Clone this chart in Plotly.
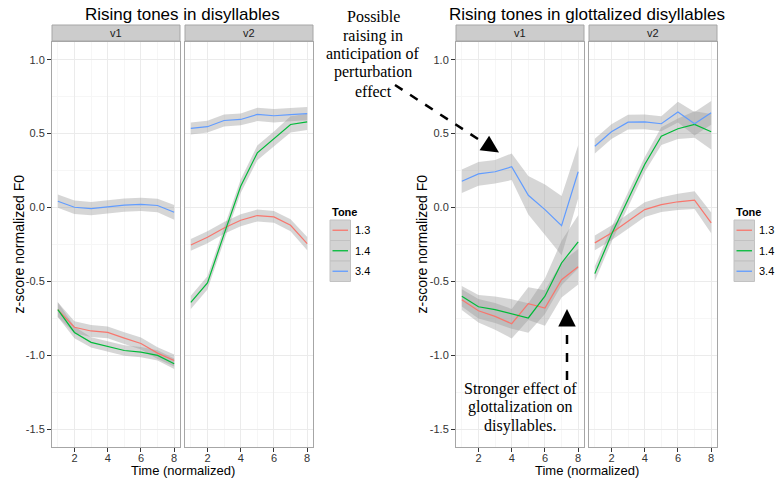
import plotly.graph_objects as go

# ---------------- data ----------------
time = [1, 2, 3, 4, 5, 6, 7, 8]
tones = ["1.3", "1.4", "3.4"]

# Rising tones in disyllables, v1
dis_v1_t13 = [-0.69, -0.81, -0.835, -0.845, -0.883, -0.92, -0.985, -1.035]
dis_v1_t13_se = [0.05, 0.04, 0.04, 0.04, 0.04, 0.04, 0.04, 0.04]
dis_v1_t14 = [-0.69, -0.845, -0.912, -0.94, -0.967, -0.978, -1.0, -1.057]
dis_v1_t14_se = [0.05, 0.04, 0.035, 0.035, 0.035, 0.035, 0.035, 0.035]
dis_v1_t34 = [0.043, 0.002, -0.007, 0.007, 0.016, 0.022, 0.014, -0.032]
dis_v1_t34_se = [0.045, 0.045, 0.045, 0.045, 0.045, 0.045, 0.045, 0.05]

# Rising tones in disyllables, v2
dis_v2_t13 = [-0.253, -0.201, -0.138, -0.086, -0.054, -0.063, -0.12, -0.244]
dis_v2_t13_se = [0.04, 0.04, 0.04, 0.04, 0.04, 0.04, 0.04, 0.045]
dis_v2_t14 = [-0.641, -0.51, -0.18, 0.144, 0.37, 0.465, 0.562, 0.58]
dis_v2_t14_se = [0.045, 0.045, 0.045, 0.045, 0.05, 0.05, 0.055, 0.055]
dis_v2_t34 = [0.535, 0.547, 0.589, 0.596, 0.63, 0.621, 0.628, 0.635]
dis_v2_t34_se = [0.04, 0.04, 0.04, 0.04, 0.045, 0.045, 0.045, 0.045]

# Rising tones in glottalized disyllables, v1
glo_v1_t13 = [-0.623, -0.698, -0.736, -0.786, -0.65, -0.68, -0.488, -0.40]
glo_v1_t13_se = [0.07, 0.08, 0.09, 0.1, 0.11, 0.12, 0.12, 0.12]
glo_v1_t14 = [-0.60, -0.671, -0.691, -0.72, -0.747, -0.60, -0.375, -0.232]
glo_v1_t14_se = [0.07, 0.08, 0.09, 0.1, 0.1, 0.12, 0.15, 0.18]
glo_v1_t34 = [0.178, 0.228, 0.242, 0.276, 0.083, -0.014, -0.122, 0.242]
glo_v1_t34_se = [0.08, 0.08, 0.08, 0.09, 0.13, 0.17, 0.2, 0.18]

# Rising tones in glottalized disyllables, v2
glo_v2_t13 = [-0.239, -0.172, -0.093, -0.014, 0.02, 0.039, 0.05, -0.104]
glo_v2_t13_se = [0.05, 0.05, 0.05, 0.05, 0.05, 0.055, 0.06, 0.07]
glo_v2_t14 = [-0.447, -0.183, 0.054, 0.291, 0.483, 0.533, 0.562, 0.513]
glo_v2_t14_se = [0.05, 0.05, 0.05, 0.05, 0.06, 0.07, 0.09, 0.12]
glo_v2_t34 = [0.415, 0.513, 0.578, 0.58, 0.567, 0.646, 0.567, 0.641]
glo_v2_t34_se = [0.05, 0.05, 0.05, 0.05, 0.05, 0.07, 0.08, 0.08]

x_ticks = [2, 4, 6, 8]
y_ticks = [-1.5, -1.0, -0.5, 0.0, 0.5, 1.0]
y_tick_labels = ["-1.5", "-1.0", "-0.5", "0.0", "0.5", "1.0"]

chart_titles = ["Rising tones in disyllables", "Rising tones in glottalized disyllables"]
strip_labels = ["v1", "v2", "v1", "v2"]
x_title = "Time (normalized)"
y_title = "z-score normalized F0"
legend_title = "Tone"
note_top = ["Possible", "raising in", "anticipation of", "perturbation", "effect"]
note_bottom = ["Stronger effect of", "glottalization on", "disyllables."]

# ---------------- styling ----------------
W, H = 775, 480
colors = {"1.3": "#F8766D", "1.4": "#00BA38", "3.4": "#619CFF"}
ribbon = "rgba(153,153,153,0.4)"
SANS = "Liberation Sans, Arial, Helvetica, sans-serif"
SERIF = "Liberation Serif, Times New Roman, serif"

def px(x):
    return x / W

def py(y):
    return 1 - y / H

panels_px = [(52, 180), (185, 313), (456, 584), (589, 717)]
y_dom = [py(447), py(42)]
x_range = [0.65, 8.35]
y_range = [-1.62, 1.12]

panel_data = [
    [(dis_v1_t13, dis_v1_t13_se), (dis_v1_t14, dis_v1_t14_se), (dis_v1_t34, dis_v1_t34_se)],
    [(dis_v2_t13, dis_v2_t13_se), (dis_v2_t14, dis_v2_t14_se), (dis_v2_t34, dis_v2_t34_se)],
    [(glo_v1_t13, glo_v1_t13_se), (glo_v1_t14, glo_v1_t14_se), (glo_v1_t34, glo_v1_t34_se)],
    [(glo_v2_t13, glo_v2_t13_se), (glo_v2_t14, glo_v2_t14_se), (glo_v2_t34, glo_v2_t34_se)],
]

fig = go.Figure()

for i, series in enumerate(panel_data):
    xa = "x" if i == 0 else f"x{i+1}"
    ya = "y" if i == 0 else f"y{i+1}"
    # ribbons
    for tone, (vals, se) in zip(tones, series):
        lo = [v - s for v, s in zip(vals, se)]
        hi = [v + s for v, s in zip(vals, se)]
        fig.add_trace(go.Scatter(x=time, y=lo, xaxis=xa, yaxis=ya, mode="lines",
                                 line=dict(width=0), showlegend=False, hoverinfo="skip"))
        fig.add_trace(go.Scatter(x=time, y=hi, xaxis=xa, yaxis=ya, mode="lines",
                                 line=dict(width=0), fill="tonexty", fillcolor=ribbon,
                                 showlegend=False, hoverinfo="skip"))
    # lines
    for tone, (vals, se) in zip(tones, series):
        fig.add_trace(go.Scatter(x=time, y=vals, xaxis=xa, yaxis=ya, mode="lines",
                                 line=dict(color=colors[tone], width=1.2),
                                 name=tone, showlegend=False))

layout = dict(width=W, height=H, margin=dict(l=0, r=0, t=0, b=0),
              paper_bgcolor="white", plot_bgcolor="white", showlegend=False)

for i, (l, r) in enumerate(panels_px):
    xk = "xaxis" if i == 0 else f"xaxis{i+1}"
    yk = "yaxis" if i == 0 else f"yaxis{i+1}"
    ya = "y" if i == 0 else f"y{i+1}"
    xa = "x" if i == 0 else f"x{i+1}"
    layout[xk] = dict(domain=[px(l), px(r)], range=x_range, anchor=ya,
                      tickvals=x_ticks, ticks="outside", ticklen=4, tickcolor="#333333",
                      ticklabelstandoff=-3,
                      tickfont=dict(family=SANS, size=11, color="#333333"),
                      showgrid=True, gridcolor="#EBEBEB", gridwidth=1,
                      minor=dict(dtick=1, tick0=1, showgrid=True, gridcolor="#F6F6F6", ticks=""),
                      showline=True, mirror=True, linecolor="#A6A6A6", linewidth=1,
                      zeroline=False, fixedrange=True)
    show_y = i in (0, 2)
    layout[yk] = dict(domain=y_dom, range=y_range, anchor=xa,
                      tickvals=y_ticks, ticktext=y_tick_labels,
                      showticklabels=show_y, ticks="outside" if show_y else "",
                      ticklen=4, tickcolor="#333333",
                      tickfont=dict(family=SANS, size=11, color="#333333"),
                      showgrid=True, gridcolor="#EBEBEB", gridwidth=1,
                      minor=dict(dtick=0.25, tick0=0, showgrid=True, gridcolor="#F6F6F6", ticks=""),
                      showline=True, mirror=True, linecolor="#A6A6A6", linewidth=1,
                      zeroline=False, fixedrange=True)

shapes = []
annotations = []

# strips
for (l, r), lab in zip(panels_px, strip_labels):
    shapes.append(dict(type="rect", xref="paper", yref="paper", x0=px(l), x1=px(r),
                       y0=py(41), y1=py(25), fillcolor="#CCCCCC",
                       line=dict(color="#A6A6A6", width=1), layer="above"))
    annotations.append(dict(text=lab, xref="paper", yref="paper", x=px((l + r) / 2), y=py(33),
                            xanchor="center", yanchor="middle", showarrow=False,
                            font=dict(family=SANS, size=11, color="#1A1A1A")))

# titles and axis titles
for k, title in enumerate(chart_titles):
    l = panels_px[2 * k][0]
    r = panels_px[2 * k + 1][1]
    cx = (l + r) / 2
    annotations.append(dict(text=title, xref="paper", yref="paper", x=px(cx), y=py(14.5),
                            xanchor="center", yanchor="middle", showarrow=False,
                            font=dict(family=SANS, size=17, color="black")))
    annotations.append(dict(text=x_title, xref="paper", yref="paper", x=px(cx), y=py(479.5),
                            xanchor="center", yanchor="bottom", showarrow=False,
                            font=dict(family=SANS, size=13, color="black")))
    annotations.append(dict(text=y_title, xref="paper", yref="paper",
                            x=px(18 if k == 0 else 421), y=py(244.5), textangle=-90,
                            xanchor="center", yanchor="middle", showarrow=False,
                            font=dict(family=SANS, size=14, color="black")))

# legends
for lx in (330, 734):
    annotations.append(dict(text="<b>" + legend_title + "</b>", xref="paper", yref="paper",
                            x=px(lx), y=py(212), xanchor="left", yanchor="middle",
                            showarrow=False, font=dict(family=SANS, size=11, color="black")))
    for j, tone in enumerate(tones):
        top = 220 + j * 20.5
        shapes.append(dict(type="rect", xref="paper", yref="paper", x0=px(lx), x1=px(lx + 20.5),
                           y0=py(top + 20.5), y1=py(top), fillcolor="#D3D3D3",
                           line=dict(color="#C2C2C2", width=1)))
        shapes.append(dict(type="line", xref="paper", yref="paper", x0=px(lx + 2.5),
                           x1=px(lx + 18), y0=py(top + 10.25), y1=py(top + 10.25),
                           line=dict(color=colors[tone], width=1.3)))
        annotations.append(dict(text=tone, xref="paper", yref="paper", x=px(lx + 22.5),
                                y=py(top + 10.25), xanchor="left", yanchor="middle",
                                showarrow=False, font=dict(family=SANS, size=11, color="black")))

# notes (serif text)
for j, line in enumerate(note_top):
    annotations.append(dict(text=line, xref="paper", yref="paper", x=px(373), y=py(17 + j * 18.5),
                            xanchor="center", yanchor="middle", showarrow=False,
                            font=dict(family=SERIF, size=16, color="black")))
for j, line in enumerate(note_bottom):
    annotations.append(dict(text=line, xref="paper", yref="paper", x=px(520), y=py(388.5 + j * 18.5),
                            xanchor="center", yanchor="middle", showarrow=False,
                            font=dict(family=SERIF, size=16, color="black")))

# dashed arrows
shapes.append(dict(type="line", xref="paper", yref="paper", x0=px(395), y0=py(85),
                   x1=px(488), y1=py(145.5), line=dict(color="black", width=2.5, dash="dash")))
annotations.append(dict(text="", xref="paper", yref="paper", x=px(499), y=py(152.5),
                        ax=-10, ay=-6.5, showarrow=True, arrowhead=2, arrowsize=1.4,
                        arrowwidth=2.5, arrowcolor="black"))
shapes.append(dict(type="line", xref="paper", yref="paper", x0=px(567), y0=py(380),
                   x1=px(567), y1=py(320), line=dict(color="black", width=2.5, dash="dash")))
annotations.append(dict(text="", xref="paper", yref="paper", x=px(567), y=py(309),
                        ax=0, ay=12, showarrow=True, arrowhead=2, arrowsize=1.4,
                        arrowwidth=2.5, arrowcolor="black"))

layout["shapes"] = shapes
layout["annotations"] = annotations
fig.update_layout(**layout)

fig.write_html("out.html")
